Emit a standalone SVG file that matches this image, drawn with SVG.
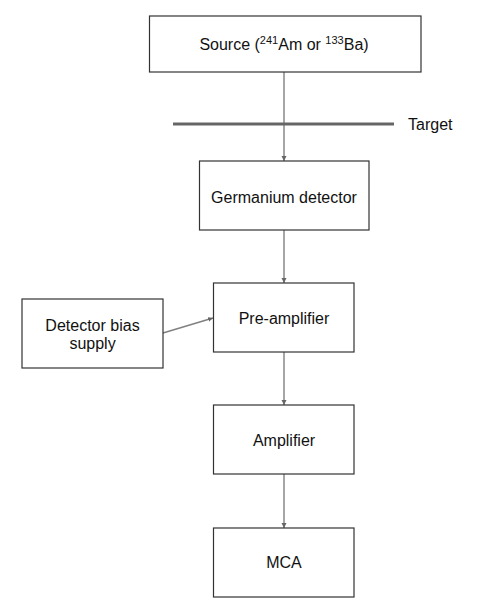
<svg xmlns="http://www.w3.org/2000/svg" width="491" height="613" viewBox="0 0 491 613">
<defs>
<style>
.box{fill:#fff;stroke:#333;stroke-width:1.2}
.t{font-family:"Liberation Sans",Arial,sans-serif;font-size:16px;fill:#111;text-anchor:middle}
.c{stroke:#808080;stroke-width:1.4;fill:none;marker-end:url(#ah)}
</style>
<marker id="ah" markerWidth="6" markerHeight="6" refX="5" refY="3" orient="auto" markerUnits="userSpaceOnUse">
<path d="M0,0.5 L5,3 L0,5.5 Z" fill="#666"/>
</marker>
</defs>
<rect width="491" height="613" fill="#fff"/>
<g id="connectors">
<line class="c" x1="284" y1="72" x2="284" y2="161"/>
<line class="c" x1="284" y1="230" x2="284" y2="283"/>
<line class="c" x1="163" y1="333" x2="213" y2="318"/>
<line class="c" x1="284" y1="352" x2="284" y2="405"/>
<line class="c" x1="284" y1="474" x2="284" y2="528"/>
</g>
<g id="target">
<line x1="173" y1="124" x2="394" y2="124" stroke="#666" stroke-width="3"/>
<text class="t" x="408" y="130" style="text-anchor:start">Target</text>
</g>
<g id="source">
<rect class="box" x="149.5" y="16" width="271.5" height="56"/>
<text class="t" x="284" y="50">Source (<tspan dy="-6" font-size="11">241</tspan><tspan dy="6">Am or </tspan><tspan dy="-6" font-size="11">133</tspan><tspan dy="6">Ba)</tspan></text>
</g>
<g id="germanium">
<rect class="box" x="199.5" y="161" width="169.5" height="69"/>
<text class="t" x="284" y="203">Germanium detector</text>
</g>
<g id="bias">
<rect class="box" x="22" y="299" width="141" height="69"/>
<text class="t" x="92.5" y="331">Detector bias</text>
<text class="t" x="92.5" y="349">supply</text>
</g>
<g id="preamp">
<rect class="box" x="213.5" y="283" width="140.5" height="69"/>
<text class="t" x="284" y="324">Pre-amplifier</text>
</g>
<g id="amplifier">
<rect class="box" x="213.5" y="405" width="140.5" height="69"/>
<text class="t" x="284" y="446">Amplifier</text>
</g>
<g id="mca">
<rect class="box" x="213.5" y="528" width="140.5" height="69"/>
<text class="t" x="284" y="568">MCA</text>
</g>
</svg>
